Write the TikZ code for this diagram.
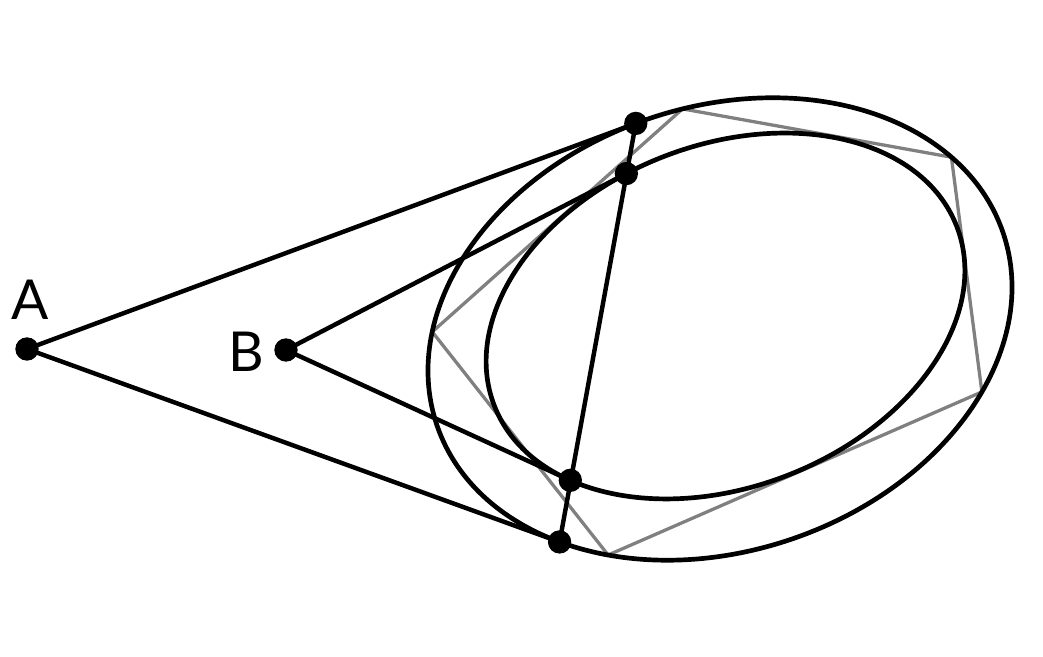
\documentclass[tikz,border=0pt]{standalone}
\usepackage{fontspec}
\setmainfont{Lato}
\begin{document}
\begin{tikzpicture}[x=0.03cm, y=0.03cm,
		dot/.style={circle, fill=black, inner sep=0pt, minimum size=0.7cm},
		conic/.style={black, line width=4pt},
		tangent/.style={black, line width=3.8pt},
		poly/.style={gray, line width=2.8pt, line join=miter},
		lbl/.style={font=\fontsize{47}{50}\selectfont, inner sep=0pt}]
		\useasboundingbox (0,0) rectangle (1043,657);
		\begin{scope}[shift={(720,328)}, rotate=18.78]
		\coordinate (P1) at (92.6:299 and 222);
		\coordinate (P2) at (222.5:299 and 222);
		\coordinate (V1) at (156.1:299 and 222);
		\coordinate (V2) at (83.2:299 and 222);
		\coordinate (V3) at (23.4:299 and 222);
		\coordinate (V4) at (-40.4:299 and 222);
		\coordinate (V5) at (233.3:299 and 222);
		\end{scope}
		\begin{scope}[shift={(725.5,341)}, rotate=21.2]
		\coordinate (Q1) at (99.5:248 and 171);
		\coordinate (Q2) at (214.6:248 and 171);
		\end{scope}
		\draw[poly] (V1) -- (V2) -- (V3) -- (V4) -- (V5) -- cycle;
		\draw[conic, rotate around={18.78:(720,328)}] (720,328) ellipse [x radius=299, y radius=222];
		\draw[conic, rotate around={21.2:(725.5,341)}] (725.5,341) ellipse [x radius=248, y radius=171];
		\node[dot] (A) at (27,308) {};
		\node[dot] (B) at (286,307) {};
		\node[lbl] (labA) at (30,357) {A};
		\node[lbl] (labB) at (246,305) {B};
		\draw[tangent] (A.center) -- (P1);
		\draw[tangent] (A.center) -- (P2);
		\draw[tangent] (B.center) -- (Q1);
		\draw[tangent] (B.center) -- (Q2);
		\draw[tangent] (P1) -- (P2);
		\foreach \p in {P1, P2, Q1, Q2}
		\node[dot] at (\p) {};
\end{tikzpicture}
\end{document}
